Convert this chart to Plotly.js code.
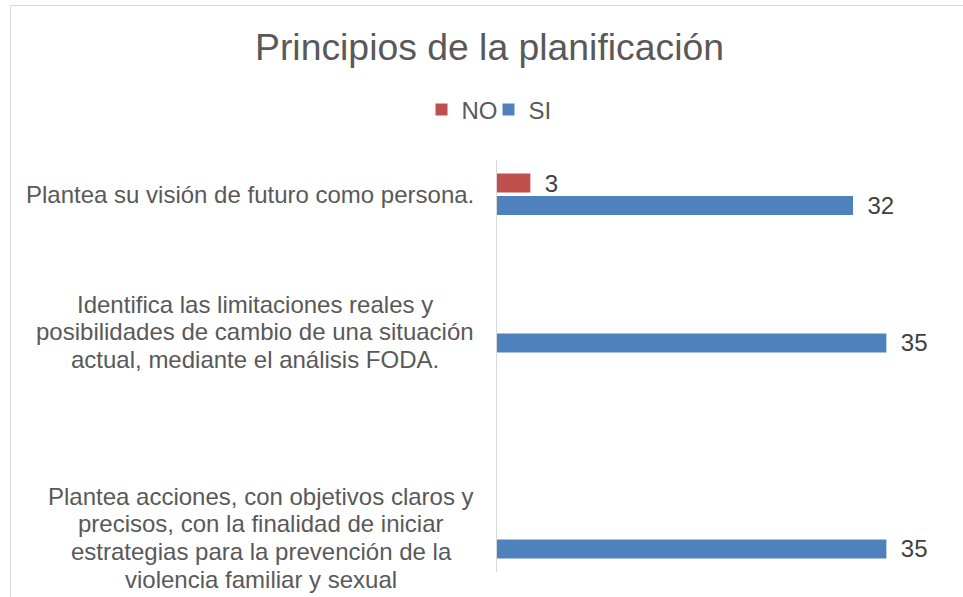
<!DOCTYPE html>
<html>
<head>
<meta charset="utf-8">
<script src="https://cdn.plot.ly/plotly-3.0.1.min.js"></script>
<style>
  html, body { margin: 0; padding: 0; background: #ffffff; }
  #chart { width: 963px; height: 597px; }
</style>
</head>
<body>
<div id="chart"></div>
<script>
// ---- Data ----
const titulo = "Principios de la planificación";
const etiquetas = [
  "Plantea su visión de futuro como persona.",
  "",
  "Identifica las limitaciones reales y<br>posibilidades de cambio de una situación<br>actual, mediante el análisis FODA.",
  "",
  "",
  "Plantea acciones, con objetivos claros y<br>precisos, con la finalidad de iniciar<br>estrategias para la prevención de la<br>violencia familiar y sexual"
];
const serieNombres = ["NO", "SI"];
const valoresNO = [3, null, null, null, null, null];
const valoresSI = [32, null, 35, null, null, 35];
const ejeXMax = 40;

// ---- Layout helpers ----
const W = 963, H = 597;
const M = { l: 497, r: 21, t: 160, b: 25 };
const pw = W - M.l - M.r, ph = H - M.t - M.b;
const pxX = px => (px - M.l) / pw;
const pxY = py => (H - M.b - py) / ph;

const FONT = "'Liberation Sans', Arial, sans-serif";
const GRIS = "#595959";
const FS = 24;          // label font size
const LINE_H = 27.6;    // line height of wrapped labels
const LABEL_RIGHT = 474; // right edge of widest line (px)

// unique category keys (blank rows keep their slot)
const claves = etiquetas.map((t, i) => t === "" ? "vacío " + i : t);

// text measurement for centring wrapped labels
const ctx = document.createElement("canvas").getContext("2d");
ctx.font = FS + "px 'Liberation Sans', Arial, sans-serif";

const traces = serieNombres.map((nombre, s) => ({
  type: "bar", orientation: "h", name: nombre,
  y: claves, x: s === 0 ? valoresNO : valoresSI,
  marker: { color: s === 0 ? "#C0504D" : "#4F81BD" },
  texttemplate: "\u00a0\u2009%{x}", textposition: "outside",
  textfont: { family: FONT, size: FS, color: "#404040" },
  constraintext: "none", cliponaxis: false, hoverinfo: "x+name"
}));

const annotations = [];
etiquetas.forEach((t, i) => {
  if (t === "") return;
  const lineas = t.split("<br>");
  const maxW = Math.max(...lineas.map(l => ctx.measureText(l).width));
  const centroPx = LABEL_RIGHT - maxW / 2;
  lineas.forEach((linea, j) => {
    annotations.push({
      xref: "paper", yref: "y", x: pxX(centroPx), y: claves[i],
      xanchor: "center", yanchor: "middle",
      yshift: -(j - (lineas.length - 1) / 2) * LINE_H,
      text: linea, showarrow: false,
      font: { family: FONT, size: FS, color: GRIS }
    });
  });
});

const layout = {
  width: W, height: H,
  margin: M,
  paper_bgcolor: "#ffffff", plot_bgcolor: "#ffffff",
  font: { family: FONT, color: GRIS },
  title: {
    text: titulo,
    font: { family: FONT, size: 37.33, color: GRIS },
    xref: "container", yref: "container",
    x: 489.5 / W, xanchor: "center",
    y: 1 - 47 / H, yanchor: "middle"
  },
  showlegend: true,
  legend: {
    orientation: "h",
    xref: "container", yref: "container",
    x: 421.5 / W, xanchor: "left",
    y: 1 - 110 / H, yanchor: "middle",
    font: { family: FONT, size: FS, color: GRIS },
    itemwidth: 30, entrywidth: 22, traceorder: "normal"
  },
  barmode: "group",
  bargap: 0.345,
  bargroupgap: 0.155,
  xaxis: {
    range: [0, ejeXMax], showgrid: false, zeroline: false,
    showline: false, showticklabels: false, ticks: "", fixedrange: true
  },
  yaxis: {
    type: "category", categoryorder: "array", categoryarray: claves,
    range: [claves.length - 0.5, -0.5], autorange: false,
    showgrid: false, zeroline: false,
    showline: true, linecolor: "#d9d9d9", linewidth: 1,
    showticklabels: false, ticks: "", fixedrange: true
  },
  annotations: annotations,
  shapes: [{
    type: "rect", xref: "paper", yref: "paper", layer: "below",
    x0: pxX(10.5), x1: pxX(W + 10), y0: pxY(H + 10), y1: pxY(5.5),
    line: { color: "#d9d9d9", width: 1 }, fillcolor: "rgba(0,0,0,0)"
  }]
};

Plotly.newPlot("chart", traces, layout, { displayModeBar: false, staticPlot: true });
</script>
</body>
</html>
